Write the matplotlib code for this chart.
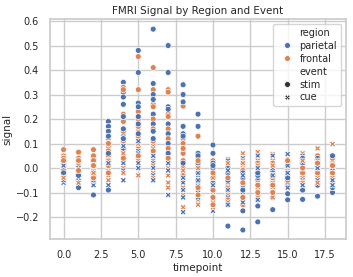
import matplotlib
matplotlib.use("Agg")
import matplotlib.pyplot as plt
import seaborn as sns
import pandas as pd

timepoints = list(range(19))

# signal values per timepoint (8 subjects each)
parietal_stim = [
    [0.05, 0.03, 0.01, -0.01, -0.03, 0.0, 0.02, -0.02],
    [0.04, 0.02, 0.0, -0.02, -0.05, -0.08, 0.01, -0.03],
    [-0.11, 0.04, 0.0, -0.03, 0.02, -0.05, 0.01, -0.02],
    [0.19, 0.17, 0.15, 0.13, 0.10, 0.06, 0.03, -0.09],
    [0.35, 0.31, 0.29, 0.26, 0.21, 0.16, 0.12, 0.08],
    [0.48, 0.39, 0.265, 0.25, 0.21, 0.18, 0.14, 0.10],
    [0.567, 0.345, 0.30, 0.28, 0.22, 0.18, 0.15, 0.12],
    [0.50, 0.39, 0.25, 0.24, 0.18, 0.14, 0.10, 0.06],
    [0.34, 0.30, 0.27, 0.17, 0.14, 0.13, 0.08, 0.02],
    [0.22, 0.17, 0.06, 0.05, 0.02, -0.02, -0.05, 0.0],
    [0.094, 0.06, 0.02, 0.0, -0.03, -0.06, -0.04, 0.01],
    [-0.237, -0.15, -0.12, -0.10, -0.08, -0.05, -0.02, 0.0],
    [-0.253, -0.175, -0.13, -0.10, -0.07, -0.04, -0.02, -0.09],
    [-0.22, -0.155, -0.11, -0.08, -0.05, -0.03, -0.13, -0.02],
    [-0.17, -0.12, -0.09, -0.06, -0.04, -0.01, -0.10, -0.03],
    [-0.13, -0.105, -0.07, -0.05, -0.03, -0.01, 0.01, -0.04],
    [-0.128, -0.09, -0.06, -0.04, -0.02, 0.0, 0.02, 0.04],
    [-0.115, -0.07, -0.05, -0.03, -0.01, 0.01, 0.03, 0.04],
    [-0.10, -0.08, -0.06, -0.04, -0.02, 0.0, 0.02, 0.05],
]
frontal_stim = [
    [0.075, 0.04, 0.02, 0.0, -0.02, 0.01, -0.01, 0.03],
    [0.065, 0.04, 0.02, 0.0, -0.02, 0.01, 0.03, -0.01],
    [0.075, 0.05, 0.02, 0.0, -0.02, 0.03, -0.04, 0.01],
    [0.12, 0.09, 0.07, 0.05, 0.03, 0.01, -0.02, 0.10],
    [0.33, 0.32, 0.22, 0.19, 0.15, 0.11, 0.07, 0.04],
    [0.455, 0.32, 0.23, 0.20, 0.17, 0.13, 0.09, 0.05],
    [0.41, 0.32, 0.26, 0.25, 0.20, 0.16, 0.11, 0.07],
    [0.32, 0.31, 0.22, 0.21, 0.16, 0.12, 0.08, 0.04],
    [0.253, 0.12, 0.10, 0.06, 0.03, 0.0, -0.03, 0.08],
    [0.13, 0.04, 0.01, -0.02, -0.05, -0.08, -0.11, 0.03],
    [0.03, 0.0, -0.03, -0.06, -0.09, -0.12, -0.15, -0.02],
    [-0.02, -0.05, -0.07, -0.09, -0.11, -0.13, 0.0, -0.04],
    [-0.15, -0.10, -0.07, -0.04, -0.01, 0.02, -0.06, -0.12],
    [-0.12, -0.09, -0.06, -0.03, 0.0, 0.02, -0.10, -0.07],
    [-0.08, -0.05, -0.02, 0.0, 0.02, -0.07, -0.04, -0.10],
    [-0.08, -0.06, -0.03, 0.0, 0.02, -0.05, -0.02, 0.03],
    [-0.05, -0.03, -0.01, 0.01, 0.03, -0.06, -0.02, 0.0],
    [-0.03, -0.01, 0.01, 0.03, 0.05, -0.02, 0.0, 0.02],
    [-0.01, 0.01, 0.03, 0.0, 0.02, -0.02, 0.04, 0.01],
]
parietal_cue = [
    [-0.06, -0.04, -0.02, 0.0, 0.02, -0.05, -0.01, 0.01],
    [-0.07, -0.05, -0.03, -0.01, 0.01, 0.03, -0.04, 0.0],
    [0.04, 0.02, -0.01, -0.03, -0.07, 0.0, -0.05, 0.01],
    [0.08, 0.05, 0.03, 0.0, -0.02, -0.05, -0.07, 0.02],
    [0.14, 0.10, 0.07, 0.04, 0.02, -0.01, -0.05, 0.09],
    [0.13, 0.10, 0.07, 0.04, 0.02, 0.0, 0.06, 0.11],
    [0.10, 0.07, 0.04, 0.02, 0.0, -0.03, -0.05, 0.05],
    [0.06, 0.03, 0.0, -0.03, -0.06, -0.11, 0.02, -0.01],
    [0.03, 0.0, -0.03, -0.06, -0.09, -0.12, -0.18, -0.04],
    [0.03, 0.0, -0.03, -0.06, -0.09, -0.12, -0.02, -0.05],
    [0.0, -0.03, -0.06, -0.09, -0.12, -0.175, -0.02, -0.07],
    [0.03, 0.0, -0.03, -0.06, -0.09, -0.12, -0.15, -0.01],
    [0.04, 0.01, -0.02, -0.05, -0.08, -0.11, -0.14, -0.03],
    [0.05, 0.02, -0.01, -0.04, -0.07, -0.10, -0.13, 0.0],
    [0.05, 0.02, -0.01, -0.04, -0.07, -0.10, 0.0, -0.03],
    [0.057, 0.03, 0.0, -0.03, -0.06, -0.08, 0.01, -0.02],
    [0.05, 0.03, 0.01, -0.01, -0.03, -0.05, -0.07, 0.0],
    [0.05, 0.03, 0.01, -0.01, -0.03, -0.05, 0.02, 0.0],
    [0.05, 0.03, 0.01, -0.01, -0.03, -0.05, -0.07, 0.0],
]
frontal_cue = [
    [0.05, 0.03, 0.01, -0.01, -0.03, 0.0, 0.02, -0.04],
    [0.05, 0.03, 0.0, -0.02, -0.04, 0.02, -0.06, 0.01],
    [0.03, 0.01, -0.01, -0.03, -0.05, 0.02, 0.0, -0.02],
    [0.09, 0.06, 0.04, 0.02, 0.0, -0.03, -0.05, 0.03],
    [0.13, 0.11, 0.08, 0.05, 0.03, 0.0, -0.02, 0.06],
    [0.15, 0.12, 0.08, 0.05, 0.03, 0.0, -0.03, 0.10],
    [0.12, 0.09, 0.06, 0.03, 0.01, -0.02, -0.04, 0.08],
    [0.12, 0.09, 0.06, 0.03, 0.0, -0.03, -0.06, -0.08],
    [0.06, 0.02, -0.02, -0.05, -0.08, -0.11, -0.16, -0.01],
    [0.02, -0.01, -0.04, -0.07, -0.10, -0.13, -0.15, 0.0],
    [0.01, -0.02, -0.05, -0.08, -0.11, -0.14, -0.16, -0.04],
    [0.037, 0.01, -0.02, -0.05, -0.08, -0.11, -0.14, 0.02],
    [0.06, 0.03, 0.0, -0.03, -0.06, -0.09, -0.12, 0.02],
    [0.065, 0.03, 0.0, -0.03, -0.06, -0.09, -0.12, 0.01],
    [0.057, 0.03, 0.0, -0.03, -0.06, -0.09, -0.12, 0.01],
    [0.04, 0.02, -0.01, -0.04, -0.07, 0.0, -0.03, 0.03],
    [0.06, 0.04, 0.02, 0.0, -0.02, -0.04, -0.06, 0.03],
    [0.08, 0.04, 0.02, 0.0, -0.02, -0.04, -0.06, 0.03],
    [0.098, 0.04, 0.02, 0.0, -0.02, -0.04, 0.03, 0.01],
]

groups = [("parietal", "stim", parietal_stim), ("frontal", "cue", frontal_cue),
          ("parietal", "cue", parietal_cue), ("frontal", "stim", frontal_stim)]

# interleave the groups so neither colour sits entirely on top
rows = []
for t in timepoints:
    for i in range(8):
        for region, event, values in groups:
            rows.append({"timepoint": t, "signal": values[t][i],
                         "region": region, "event": event})
fmri = pd.DataFrame(rows)

sns.set_theme(style="whitegrid")
plt.rcParams["font.family"] = ["DejaVu Sans"]

fig = plt.figure(figsize=(3.53, 2.77), dpi=100)
ax = fig.add_axes([0.142, 0.137, 0.838, 0.794])
sns.scatterplot(data=fmri, x="timepoint", y="signal", hue="region", style="event",
                hue_order=["parietal", "frontal"], style_order=["stim", "cue"],
                s=18, linewidth=0.5, ax=ax)
ax.set_title("FMRI Signal by Region and Event", fontsize=7.5, pad=4)
ax.set_xlabel("timepoint", fontsize=7.5, labelpad=2)
ax.set_ylabel("signal", fontsize=7.5, labelpad=2)
ax.tick_params(labelsize=7, pad=2)
ax.set_xticks([0, 2.5, 5, 7.5, 10, 12.5, 15, 17.5])
ax.set_xlim(-0.9, 18.9)
ax.set_ylim(-0.29, 0.608)
ax.legend(loc="upper right", fontsize=7, handletextpad=0.3,
          borderpad=0.4, labelspacing=0.3)
fig.savefig("out.png", dpi=100)
